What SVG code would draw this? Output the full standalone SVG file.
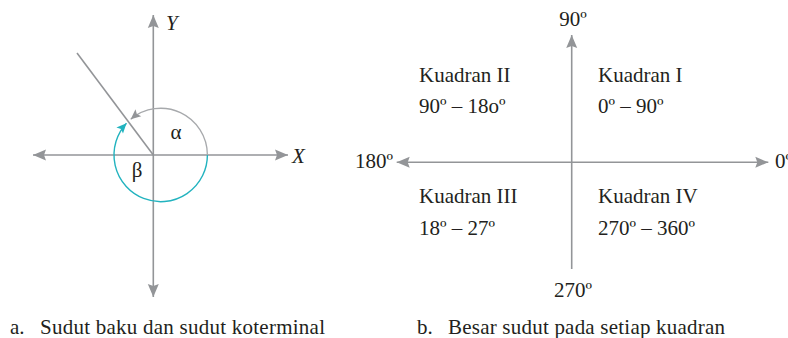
<svg xmlns="http://www.w3.org/2000/svg" width="788" height="338" viewBox="0 0 788 338">
<style>
.ax{stroke:#939598;stroke-width:1.6;fill:none}
.arcg{stroke:#a7a9ac;stroke-width:1.3;fill:none}
.arct{stroke:#22b3bf;stroke-width:1.4;fill:none}
text{font-family:"Liberation Serif","Times New Roman",serif;fill:#231f20}
.lbl{font-size:21px}
.it{font-size:21px;font-style:italic}
.cap{font-size:21px}
</style>
<defs>
<marker id="ah" markerUnits="userSpaceOnUse" markerWidth="16" markerHeight="14" viewBox="-14 -7 16 14" refX="0" refY="0" orient="auto-start-reverse">
<path d="M0,0 L-13,-5.5 L-11,0 L-13,5.5 Z" fill="#939598"/>
</marker>
<marker id="ahg" markerUnits="userSpaceOnUse" markerWidth="12" markerHeight="12" viewBox="-11 -6 12 12" refX="0" refY="0" orient="auto">
<path d="M0,0 L-10,-4.5 L-8,0 L-10,4.5 Z" fill="#939598"/>
</marker>
<marker id="aht" markerUnits="userSpaceOnUse" markerWidth="12" markerHeight="12" viewBox="-11 -6 12 12" refX="0" refY="0" orient="auto">
<path d="M0,0 L-10,-4.5 L-8,0 L-10,4.5 Z" fill="#22b3bf"/>
</marker>
</defs>

<g id="connectors">
<!-- left diagram axes -->
<line class="ax" x1="33" y1="155" x2="288" y2="155" marker-start="url(#ah)" marker-end="url(#ah)"/>
<line class="ax" x1="153.3" y1="15" x2="153.3" y2="297" marker-start="url(#ah)" marker-end="url(#ah)"/>
<line class="ax" x1="153.3" y1="155" x2="77" y2="53"/>
<path class="arcg" d="M207.4,155 A46.7,46.7 0 0 0 130.7,119.2" marker-end="url(#ahg)"/>
<path class="arct" d="M207.4,155 A46.7,46.7 0 1 1 126.5,123.2" marker-end="url(#aht)"/>
<!-- right diagram axes -->
<line class="ax" x1="396.7" y1="162.3" x2="768.3" y2="162.3" marker-start="url(#ah)" marker-end="url(#ah)"/>
<line class="ax" x1="571.7" y1="269" x2="571.7" y2="35" marker-end="url(#ah)"/>
</g>

<g id="left-labels">
<text class="it" x="166" y="30">Y</text>
<text class="it" x="292" y="163">X</text>
<text class="lbl" x="176" y="139" text-anchor="middle">α</text>
<text class="lbl" x="137" y="177" text-anchor="middle">β</text>
</g>

<g id="right-labels">
<text class="lbl" x="573" y="26" text-anchor="middle">90º</text>
<text class="lbl" x="355" y="168">180º</text>
<text class="lbl" x="775" y="168">0º</text>
<text class="lbl" x="573" y="297" text-anchor="middle">270º</text>
</g>

<g id="kuadran-II">
<text class="lbl" x="419" y="82">Kuadran II</text>
<text class="lbl" x="419" y="113">90º – 18oº</text>
</g>
<g id="kuadran-I">
<text class="lbl" x="598" y="82">Kuadran I</text>
<text class="lbl" x="598" y="113">0º – 90º</text>
</g>
<g id="kuadran-III">
<text class="lbl" x="419" y="203">Kuadran III</text>
<text class="lbl" x="419" y="235">18º – 27º</text>
</g>
<g id="kuadran-IV">
<text class="lbl" x="598" y="203">Kuadran IV</text>
<text class="lbl" x="598" y="235">270º – 360º</text>
</g>

<g id="captions">
<text class="cap" x="10" y="334">a.</text>
<text class="cap" x="40" y="334" textLength="285">Sudut baku dan sudut koterminal</text>
<text class="cap" x="417" y="334">b.</text>
<text class="cap" x="448" y="334" textLength="277">Besar sudut pada setiap kuadran</text>
</g>
</svg>
